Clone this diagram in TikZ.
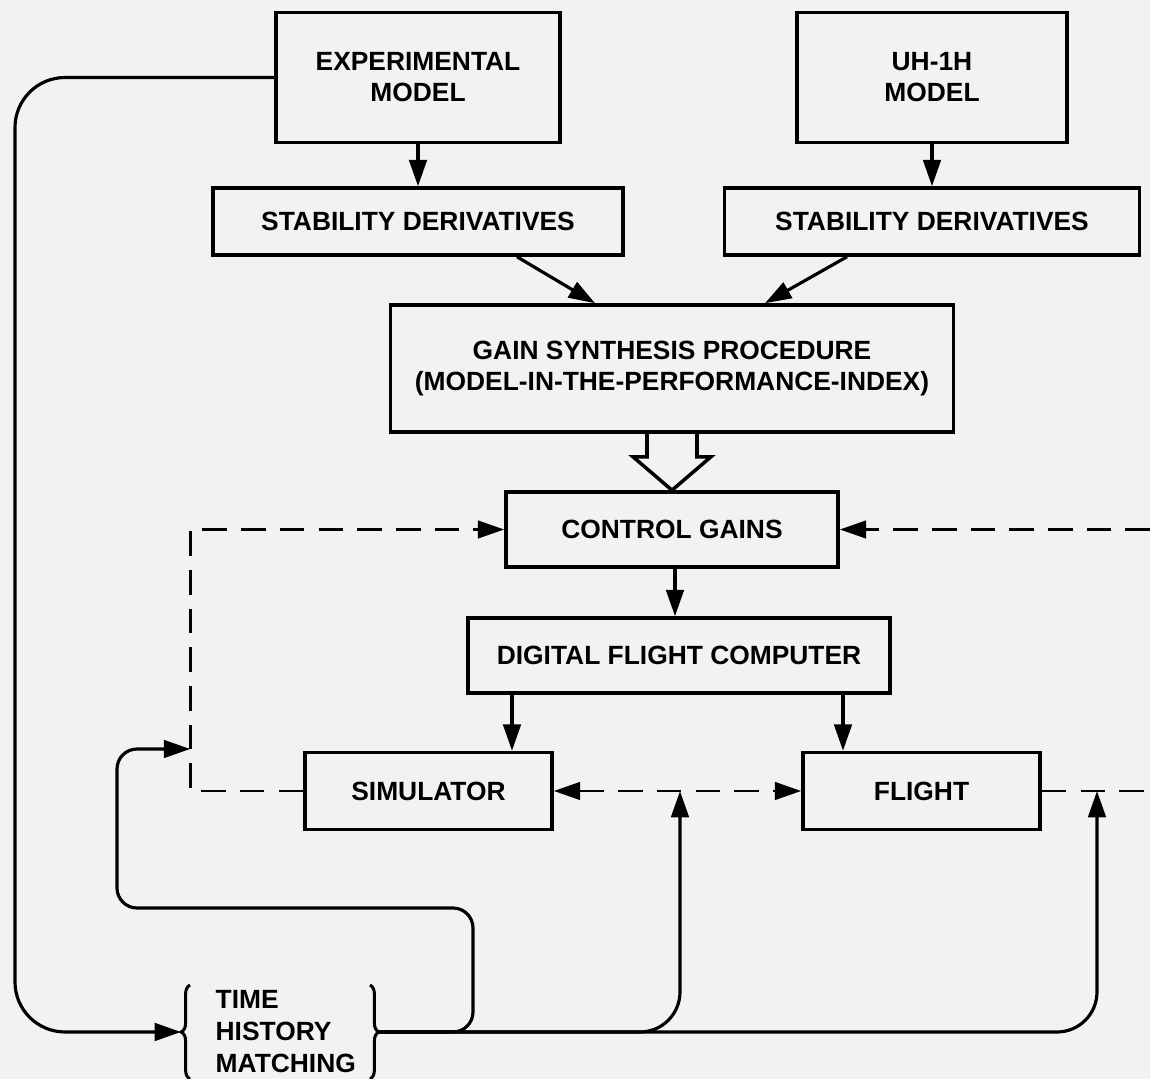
\documentclass[tikz,border=0pt]{standalone}
\usepackage{fontspec}
\setmainfont{Liberation Sans}
\usetikzlibrary{arrows.meta,calc,decorations.pathreplacing}
\begin{document}
\begin{tikzpicture}[x=0.01cm,y=-0.01cm,
    font=\bfseries\fontsize{7.5}{8.8}\selectfont,
    box/.style={draw,line width=1pt,align=center,inner sep=0pt},
    tip/.style={-{Triangle[length=7.5pt,width=5pt]}},
    dsh/.style={dash pattern=on 7pt off 4pt}]
  \useasboundingbox (0,0) rectangle (1150,1079);
  \fill[black!5] (0,0) rectangle (1150,1079);
  \draw
    (418,77.5) node[box,minimum width=2.84cm,minimum height=1.3cm] (expm){EXPERIMENTAL\\MODEL}
    (932,77.5) node[box,minimum width=2.7cm,minimum height=1.3cm] (uhm){UH-1H\\MODEL}
    (418,221.5) node[box,minimum width=4.1cm,minimum height=0.67cm] (stabl){STABILITY DERIVATIVES}
    (932,221.5) node[box,minimum width=4.15cm,minimum height=0.67cm] (stabr){STABILITY DERIVATIVES}
    (672,368.5) node[box,minimum width=5.63cm,minimum height=1.27cm] (gain){GAIN SYNTHESIS PROCEDURE\\(MODEL-IN-THE-PERFORMANCE-INDEX)}
    (672,529.5) node[box,minimum width=3.32cm,minimum height=0.75cm] (cgain){CONTROL GAINS}
    (679,655.5) node[box,minimum width=4.22cm,minimum height=0.75cm] (dfc){DIGITAL FLIGHT COMPUTER}
    (428.5,791) node[box,minimum width=2.47cm,minimum height=0.77cm] (sim){SIMULATOR}
    (921.5,791) node[box,minimum width=2.37cm,minimum height=0.77cm] (flt){FLIGHT}
    (215,1032) node[anchor=west,align=left,inner sep=0pt,font=\bfseries\fontsize{7.5}{9.1}\selectfont] (thm){TIME\\HISTORY\\MATCHING};
  % braces round the matching step
  \coordinate (thml) at ($(thm.west)+(-25,0)$);
  \coordinate (thmr) at ($(thm.west)+(155,0)$);
  \coordinate (thmin) at ($(thml)+(-9,0)$);
  \coordinate (thmout) at ($(thmr)+(9,0)$);
  \draw[line width=0.85pt,decorate,decoration={brace,amplitude=2.5pt}] ($(thml)+(0,47)$) -- ($(thml)+(0,-47)$);
  \draw[line width=0.85pt,decorate,decoration={brace,amplitude=2.5pt}] ($(thmr)+(0,-47)$) -- ($(thmr)+(0,47)$);
  % open arrow into the gains
  \draw[line width=1pt] ($(gain.south)+(-25,0)$) -- ++(0,23) -- ++(-14,0) -- (cgain.north)
    -- ($(gain.south)+(39,23)$) -- ++(-14,0) -- ($(gain.south)+(25,0)$);
  \coordinate (simloop) at ($(sim.west)+(-113,-42)$);
  \coordinate (midup) at (680,791);
  \coordinate (rgtup) at (1097,791);
  \coordinate (rgtlo) at (1150,791);
  \coordinate (rgthi) at (1150,529.5);
  \begin{scope}[tip,line width=0.9pt]
    \draw (expm) to (stabl);
    \draw (uhm) to (stabr);
    \draw ($(stabl.south)+(99,0)$) to ($(gain.north)+(-77,0)$);
    \draw ($(stabr.south)+(-85,0)$) to ($(gain.north)+(93,0)$);
    \draw ($(cgain.south)+(3,0)$) to ($(dfc.north)+(-4,0)$);
    \draw ($(dfc.south)+(-167,0)$) to ($(sim.north)+(83.5,0)$);
    \draw ($(dfc.south)+(164,0)$) to ($(flt.north)+(-78.5,0)$);
    \draw[rounded corners=5mm] (expm.west) -| (15,1032) -- (thmin);
    \draw[rounded corners=2mm] (thmout) -| (473,908) -| (simloop -| 117,0) -- (simloop);
    \draw[rounded corners=4mm] (thmout) -| (midup);
    \draw[rounded corners=4mm] (thmout) -| (rgtup);
  \end{scope}
  \begin{scope}[dsh,line width=0.8pt]
    \draw[tip] (sim.west) -- ++(-113,0) |- (cgain.west);
    \draw[{Triangle[length=7.5pt,width=5pt]}-{Triangle[length=7.5pt,width=5pt]}] (sim.east) -- (flt.west);
    \draw (flt.east) -- (rgtlo);
    \draw[tip] (rgthi) -- (cgain.east);
  \end{scope}
\end{tikzpicture}
\end{document}
